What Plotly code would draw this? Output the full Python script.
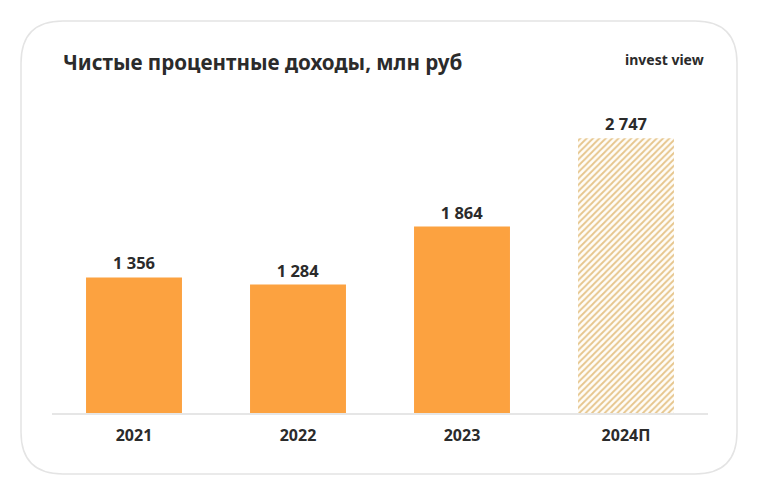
import plotly.graph_objects as go

categories = ["2021", "2022", "2023", "2024П"]
values = [1356, 1284, 1864, 2747]
forecast = [False, False, False, True]

O = 8  # page body offset
W, H = 750, 488
L, R, T, B = 52 - O, 758 - 708, 113 - O, 496 - 413
PW, PH = W - L - R, H - T - B

def px(x):
    return (x - O - L) / PW

def py(y):
    return (H - B - (y - O)) / PH

def lab(v):
    return f"<b>{v:,}</b>".replace(",", " ")

orange = "#FCA240"
tf = dict(size=16.5, color="#2b2b2b", family="Noto Sans")

act = [i for i, f in enumerate(forecast) if not f]
fc = [i for i, f in enumerate(forecast) if f]

fig = go.Figure()
fig.add_trace(go.Bar(
    x=[categories[i] for i in act], y=[values[i] for i in act],
    text=[lab(values[i]) for i in act],
    textposition="outside", cliponaxis=False, textfont=tf,
    marker=dict(color=orange, line=dict(width=0)),
    width=0.585, hoverinfo="skip",
))
fig.add_trace(go.Bar(
    x=[categories[i] for i in fc], y=[values[i] for i in fc],
    text=[lab(values[i]) for i in fc],
    textposition="outside", cliponaxis=False, textfont=tf,
    marker=dict(color="white", line=dict(width=0),
                pattern=dict(shape="/", fgcolor="#E6C58C", bgcolor="#FFFDF8",
                             fgopacity=1, size=4.5, solidity=0.4)),
    width=0.585, hoverinfo="skip",
))

# rounded card
x0, x1, y0, y1, r = 21, 737, 21, 474, 42
path = (
    f"M {px(x0+r)},{py(y0)} L {px(x1-r)},{py(y0)} Q {px(x1)},{py(y0)} {px(x1)},{py(y0+r)} "
    f"L {px(x1)},{py(y1-r)} Q {px(x1)},{py(y1)} {px(x1-r)},{py(y1)} "
    f"L {px(x0+r)},{py(y1)} Q {px(x0)},{py(y1)} {px(x0)},{py(y1-r)} "
    f"L {px(x0)},{py(y0+r)} Q {px(x0)},{py(y0)} {px(x0+r)},{py(y0)} Z"
)
fig.add_shape(type="path", path=path, xref="paper", yref="paper",
              line=dict(color="#e4e4e4", width=1.5), fillcolor="white", layer="below")

fig.add_annotation(text="<b>Чистые процентные доходы, млн руб</b>", x=px(61), y=py(62),
                   xref="paper", yref="paper", xanchor="left", yanchor="middle", showarrow=False,
                   font=dict(size=20.6, color="#2b2b2b", family="Noto Sans"))
fig.add_annotation(text="<b>invest view</b>", x=px(706), y=py(60),
                   xref="paper", yref="paper", xanchor="right", yanchor="middle", showarrow=False,
                   font=dict(size=14, color="#2b2b2b", family="Noto Sans"))

fig.update_layout(
    width=W, height=H, margin=dict(l=L, r=R, t=T, b=B),
    paper_bgcolor="white", plot_bgcolor="rgba(0,0,0,0)",
    showlegend=False, bargap=0.415, barmode="overlay",
    xaxis=dict(showline=True, linecolor="#e6e6e6", linewidth=1.5, showgrid=False,
               ticks="outside", ticklen=7, tickcolor="rgba(0,0,0,0)",
               categoryorder="array", categoryarray=categories,
               tickvals=categories, ticktext=[f"<b>{c}</b>" for c in categories],
               tickfont=dict(size=16, color="#2b2b2b", family="Noto Sans"), fixedrange=True),
    yaxis=dict(range=[0, 3000], visible=False, fixedrange=True),
)
fig.write_html("out.html")
